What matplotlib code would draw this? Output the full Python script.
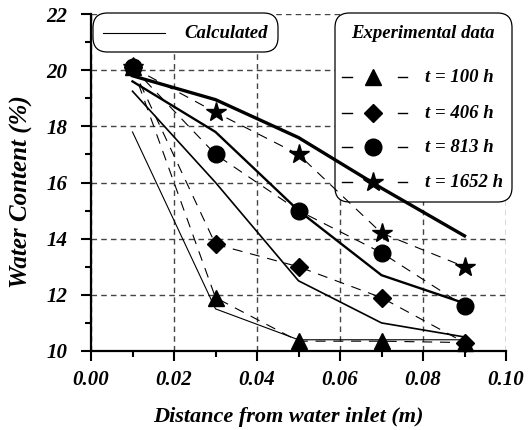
import matplotlib
matplotlib.use("Agg")
import matplotlib.pyplot as plt
from matplotlib.patches import FancyBboxPatch
from matplotlib.lines import Line2D
from matplotlib.ticker import MultipleLocator, FormatStrFormatter

plt.rcParams['font.family'] = ['Liberation Serif', 'DejaVu Serif']

# Experimental measurements (distance in m, water content in %)
x_exp = [0.01, 0.03, 0.05, 0.07, 0.09]
exp_100 = [20.1, 11.9, 10.35, 10.35, 10.3]
exp_406 = [20.1, 13.8, 13.0, 11.9, 10.3]
exp_813 = [20.1, 17.0, 15.0, 13.5, 11.6]
exp_1652 = [20.1, 18.5, 17.0, 14.2, 13.0]

# Calculated profiles
x_calc = [0.01, 0.03, 0.05, 0.07, 0.09]
calc_100 = [17.8, 11.5, 10.4, 10.4, 10.4]
calc_406 = [19.25, 16.0, 12.5, 11.0, 10.5]
calc_813 = [19.6, 17.8, 15.0, 12.7, 11.7]
calc_1652 = [19.8, 18.95, 17.6, 15.8, 14.1]

series_labels = ['t = 100 h', 't = 406 h', 't = 813 h', 't = 1652 h']
markers = ['^', 'D', 'o', '*']
marker_sizes = [12, 9, 12, 14.5]
calc_widths = [0.8, 1.2, 1.7, 2.4]

W, H = 529, 430
fig = plt.figure(figsize=(W / 100, H / 100), dpi=100)
AX_L, AX_R, AX_T, AX_B = 91, 506, 14, 351
ax = fig.add_axes([AX_L / W, 1 - AX_B / H, (AX_R - AX_L) / W, (AX_B - AX_T) / H])

font = dict(fontweight='bold', fontstyle='italic')

ax.set_xlim(0, 0.10)
ax.set_ylim(10, 22)
ax.xaxis.set_major_locator(MultipleLocator(0.02))
ax.xaxis.set_minor_locator(MultipleLocator(0.01))
ax.yaxis.set_major_locator(MultipleLocator(2))
ax.yaxis.set_minor_locator(MultipleLocator(1))
ax.xaxis.set_major_formatter(FormatStrFormatter('%.2f'))
ax.yaxis.set_major_formatter(FormatStrFormatter('%d'))

ax.set_axisbelow(True)
ax.grid(True, which='major', linestyle=(0, (4, 3)), color='#444444', linewidth=1.0)
for s in ['top', 'right']:
    ax.spines[s].set_visible(False)
for s in ['left', 'bottom']:
    ax.spines[s].set_linewidth(1.6)

ax.tick_params(which='major', direction='out', length=7, width=1.5, labelsize=15)
ax.tick_params(which='minor', direction='out', length=4, width=1.5)
ax.tick_params(axis='y', which='major', pad=10)
ax.tick_params(axis='x', which='major', pad=7)
for lab in ax.get_xticklabels() + ax.get_yticklabels():
    lab.set_fontweight('bold')
    lab.set_fontstyle('italic')

fig.text(288 / W, 1 - 422 / H, 'Distance from water inlet (m)', ha='center',
         va='baseline', fontsize=16, **font)
fig.text(21 / W, 1 - 191.5 / H, 'Water Content (%)', ha='center', va='center',
         rotation=90, fontsize=18, **font)

exp_all = [exp_100, exp_406, exp_813, exp_1652]
calc_all = [calc_100, calc_406, calc_813, calc_1652]
dash = (0, (9, 7))
for yc, lw in zip(calc_all, calc_widths):
    ax.plot(x_calc, yc, color='black', linewidth=lw, solid_joinstyle='miter', zorder=3)
for ye, m, ms in zip(exp_all, markers, marker_sizes):
    ax.plot(x_exp, ye, color='black', linewidth=0.8, linestyle=dash, zorder=3)
    ax.plot(x_exp, ye, linestyle='none', marker=m, markersize=ms,
            color='black', zorder=4, clip_on=False)


def fx(px):
    return (px - AX_L) / (AX_R - AX_L)


def fy(py):
    return (AX_B - py) / (AX_B - AX_T)


def box(x0, y0, x1, y1):
    patch = FancyBboxPatch((fx(x0), fy(y1)), fx(x1) - fx(x0), fy(y0) - fy(y1),
                           boxstyle='round,pad=0,rounding_size=0.035',
                           transform=ax.transAxes, facecolor='white',
                           edgecolor='black', linewidth=0.9, zorder=1.5,
                           clip_on=False, mutation_aspect=(AX_R - AX_L) / (AX_B - AX_T))
    ax.add_patch(patch)


# Calculated key
box(93, 13, 278, 52)
ax.add_line(Line2D([fx(103), fx(165)], [fy(33), fy(33)], transform=ax.transAxes,
                   color='black', linewidth=0.8, zorder=5, clip_on=False))
ax.text(fx(268), fy(33), 'Calculated', transform=ax.transAxes, ha='right',
        va='center', fontsize=13.5, zorder=5, **font)

# Experimental key
box(335, 13, 512, 202)
ax.text(fx(423), fy(33), 'Experimental data', transform=ax.transAxes, ha='center',
        va='center', fontsize=13.5, zorder=5, **font)
rows = [77, 113, 147, 182]
for py, lab, m, ms in zip(rows, series_labels, markers, marker_sizes):
    for a, b in [(342, 352), (398, 407)]:
        ax.add_line(Line2D([fx(a), fx(b)], [fy(py), fy(py)], transform=ax.transAxes,
                           color='black', linewidth=1.0, zorder=5, clip_on=False))
    ax.add_line(Line2D([fx(373)], [fy(py)], transform=ax.transAxes, marker=m,
                       markersize=ms, color='black', linestyle='none', zorder=5,
                       clip_on=False))
    ax.text(fx(425), fy(py), lab, transform=ax.transAxes, ha='left', va='center',
            fontsize=13.5, zorder=5, **font)

fig.savefig('out.png', dpi=100)
